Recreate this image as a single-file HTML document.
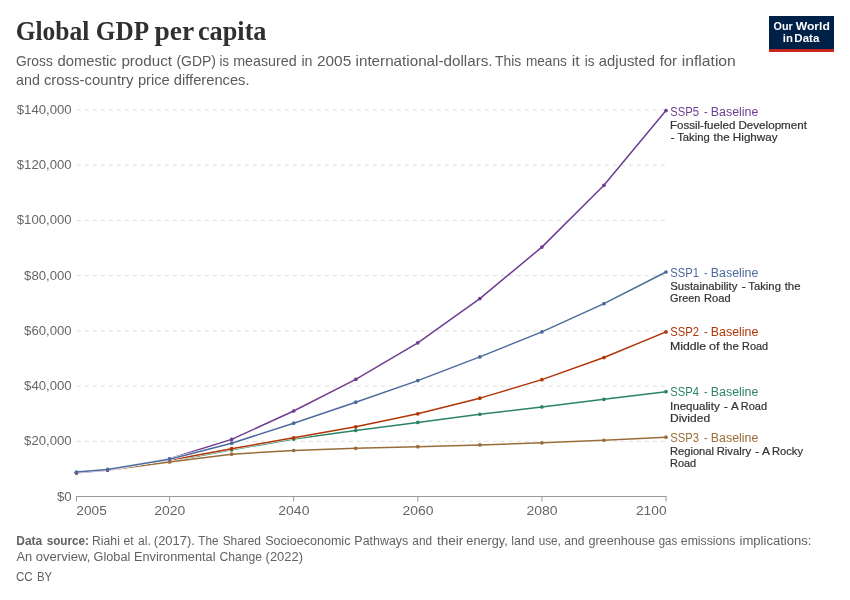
<!DOCTYPE html>
<html lang="en">
<head>
<meta charset="utf-8">
<title>Global GDP per capita</title>
<style>
html,body{margin:0;padding:0;background:#fff;}
body{width:850px;height:600px;overflow:hidden;}
svg{display:block;}
text{font-family:"Liberation Sans", sans-serif;white-space:pre;}
.title{font-family:"Liberation Serif", serif;font-weight:700;fill:#303030;}
.sub{fill:#5b5b5b;}
.tick{fill:#666;}
.foot{fill:#626262;}
.ann{fill:#333;stroke:#333;stroke-width:0.2px;}
</style>
</head>
<body>
<svg width="850" height="600" viewBox="0 0 850 600">
<rect x="0" y="0" width="850" height="600" fill="#ffffff"/>
<rect x="769" y="16" width="65" height="36" fill="#002147"/>
<rect x="769" y="49.1" width="65" height="2.9" fill="#ce261e"/>
<g stroke="#dddddd" stroke-width="1" stroke-dasharray="4,4" fill="none">
<line x1="76.8" y1="441.29" x2="666.0" y2="441.29"/>
<line x1="76.8" y1="386.07" x2="666.0" y2="386.07"/>
<line x1="76.8" y1="330.86" x2="666.0" y2="330.86"/>
<line x1="76.8" y1="275.64" x2="666.0" y2="275.64"/>
<line x1="76.8" y1="220.43" x2="666.0" y2="220.43"/>
<line x1="76.8" y1="165.21" x2="666.0" y2="165.21"/>
<line x1="76.8" y1="110.00" x2="666.0" y2="110.00"/>
</g>
<g stroke="#999999" stroke-width="1" fill="none">
<line x1="76.0" y1="496.5" x2="666.5" y2="496.5"/>
<line x1="76.50" y1="496.5" x2="76.50" y2="501.5"/>
<line x1="169.58" y1="496.5" x2="169.58" y2="501.5"/>
<line x1="293.68" y1="496.5" x2="293.68" y2="501.5"/>
<line x1="417.79" y1="496.5" x2="417.79" y2="501.5"/>
<line x1="541.89" y1="496.5" x2="541.89" y2="501.5"/>
<line x1="666.00" y1="496.5" x2="666.00" y2="501.5"/>
</g>
<g fill="#2C8465" stroke="#2C8465">
<polyline points="76.50,472.80 107.53,470.20 169.58,461.50 231.63,449.80 293.68,439.10 355.74,430.40 417.79,422.40 479.84,414.35 541.89,406.90 603.95,399.35 666.00,391.70" fill="none" stroke="#ffffff" stroke-width="2.5" stroke-linejoin="round" stroke-linecap="butt"/>
<polyline points="76.50,472.80 107.53,470.20 169.58,461.50 231.63,449.80 293.68,439.10 355.74,430.40 417.79,422.40 479.84,414.35 541.89,406.90 603.95,399.35 666.00,391.70" fill="none" stroke-width="1.5" stroke-linejoin="round" stroke-linecap="round"/>
<circle cx="76.50" cy="472.80" r="1.85" stroke="none"/>
<circle cx="107.53" cy="470.20" r="1.85" stroke="none"/>
<circle cx="169.58" cy="461.50" r="1.85" stroke="none"/>
<circle cx="231.63" cy="449.80" r="1.85" stroke="none"/>
<circle cx="293.68" cy="439.10" r="1.85" stroke="none"/>
<circle cx="355.74" cy="430.40" r="1.85" stroke="none"/>
<circle cx="417.79" cy="422.40" r="1.85" stroke="none"/>
<circle cx="479.84" cy="414.35" r="1.85" stroke="none"/>
<circle cx="541.89" cy="406.90" r="1.85" stroke="none"/>
<circle cx="603.95" cy="399.35" r="1.85" stroke="none"/>
<circle cx="666.00" cy="391.70" r="1.85" stroke="none"/>
</g>
<g fill="#B13507" stroke="#B13507">
<polyline points="76.50,472.80 107.53,470.20 169.58,460.20 231.63,448.70 293.68,437.80 355.74,426.80 417.79,413.85 479.84,398.15 541.89,379.65 603.95,357.55 666.00,331.90" fill="none" stroke="#ffffff" stroke-width="2.5" stroke-linejoin="round" stroke-linecap="butt"/>
<polyline points="76.50,472.80 107.53,470.20 169.58,460.20 231.63,448.70 293.68,437.80 355.74,426.80 417.79,413.85 479.84,398.15 541.89,379.65 603.95,357.55 666.00,331.90" fill="none" stroke-width="1.5" stroke-linejoin="round" stroke-linecap="round"/>
<circle cx="76.50" cy="472.80" r="1.85" stroke="none"/>
<circle cx="107.53" cy="470.20" r="1.85" stroke="none"/>
<circle cx="169.58" cy="460.20" r="1.85" stroke="none"/>
<circle cx="231.63" cy="448.70" r="1.85" stroke="none"/>
<circle cx="293.68" cy="437.80" r="1.85" stroke="none"/>
<circle cx="355.74" cy="426.80" r="1.85" stroke="none"/>
<circle cx="417.79" cy="413.85" r="1.85" stroke="none"/>
<circle cx="479.84" cy="398.15" r="1.85" stroke="none"/>
<circle cx="541.89" cy="379.65" r="1.85" stroke="none"/>
<circle cx="603.95" cy="357.55" r="1.85" stroke="none"/>
<circle cx="666.00" cy="331.90" r="1.85" stroke="none"/>
</g>
<g fill="#996D39" stroke="#996D39">
<polyline points="76.50,472.85 107.53,470.25 169.58,462.00 231.63,454.20 293.68,450.50 355.74,448.30 417.79,446.70 479.84,444.90 541.89,442.80 603.95,440.25 666.00,437.20" fill="none" stroke="#ffffff" stroke-width="2.5" stroke-linejoin="round" stroke-linecap="butt"/>
<polyline points="76.50,472.85 107.53,470.25 169.58,462.00 231.63,454.20 293.68,450.50 355.74,448.30 417.79,446.70 479.84,444.90 541.89,442.80 603.95,440.25 666.00,437.20" fill="none" stroke-width="1.5" stroke-linejoin="round" stroke-linecap="round"/>
<circle cx="76.50" cy="472.85" r="1.85" stroke="none"/>
<circle cx="107.53" cy="470.25" r="1.85" stroke="none"/>
<circle cx="169.58" cy="462.00" r="1.85" stroke="none"/>
<circle cx="231.63" cy="454.20" r="1.85" stroke="none"/>
<circle cx="293.68" cy="450.50" r="1.85" stroke="none"/>
<circle cx="355.74" cy="448.30" r="1.85" stroke="none"/>
<circle cx="417.79" cy="446.70" r="1.85" stroke="none"/>
<circle cx="479.84" cy="444.90" r="1.85" stroke="none"/>
<circle cx="541.89" cy="442.80" r="1.85" stroke="none"/>
<circle cx="603.95" cy="440.25" r="1.85" stroke="none"/>
<circle cx="666.00" cy="437.20" r="1.85" stroke="none"/>
</g>
<g fill="#6D3E91" stroke="#6D3E91">
<polyline points="76.50,472.70 107.53,470.10 169.58,458.80 231.63,439.40 293.68,411.00 355.74,379.35 417.79,342.80 479.84,298.60 541.89,247.10 603.95,185.30 666.00,110.60" fill="none" stroke="#ffffff" stroke-width="2.5" stroke-linejoin="round" stroke-linecap="butt"/>
<polyline points="76.50,472.70 107.53,470.10 169.58,458.80 231.63,439.40 293.68,411.00 355.74,379.35 417.79,342.80 479.84,298.60 541.89,247.10 603.95,185.30 666.00,110.60" fill="none" stroke-width="1.5" stroke-linejoin="round" stroke-linecap="round"/>
<circle cx="76.50" cy="472.70" r="1.85" stroke="none"/>
<circle cx="107.53" cy="470.10" r="1.85" stroke="none"/>
<circle cx="169.58" cy="458.80" r="1.85" stroke="none"/>
<circle cx="231.63" cy="439.40" r="1.85" stroke="none"/>
<circle cx="293.68" cy="411.00" r="1.85" stroke="none"/>
<circle cx="355.74" cy="379.35" r="1.85" stroke="none"/>
<circle cx="417.79" cy="342.80" r="1.85" stroke="none"/>
<circle cx="479.84" cy="298.60" r="1.85" stroke="none"/>
<circle cx="541.89" cy="247.10" r="1.85" stroke="none"/>
<circle cx="603.95" cy="185.30" r="1.85" stroke="none"/>
<circle cx="666.00" cy="110.60" r="1.85" stroke="none"/>
</g>
<g fill="#4C6A9C" stroke="#4C6A9C">
<polyline points="76.50,472.05 107.53,469.40 169.58,459.20 231.63,443.20 293.68,423.20 355.74,402.20 417.79,380.60 479.84,356.90 541.89,331.90 603.95,303.65 666.00,272.00" fill="none" stroke="#ffffff" stroke-width="2.5" stroke-linejoin="round" stroke-linecap="butt"/>
<polyline points="76.50,472.05 107.53,469.40 169.58,459.20 231.63,443.20 293.68,423.20 355.74,402.20 417.79,380.60 479.84,356.90 541.89,331.90 603.95,303.65 666.00,272.00" fill="none" stroke-width="1.5" stroke-linejoin="round" stroke-linecap="round"/>
<circle cx="76.50" cy="472.05" r="1.85" stroke="none"/>
<circle cx="107.53" cy="469.40" r="1.85" stroke="none"/>
<circle cx="169.58" cy="459.20" r="1.85" stroke="none"/>
<circle cx="231.63" cy="443.20" r="1.85" stroke="none"/>
<circle cx="293.68" cy="423.20" r="1.85" stroke="none"/>
<circle cx="355.74" cy="402.20" r="1.85" stroke="none"/>
<circle cx="417.79" cy="380.60" r="1.85" stroke="none"/>
<circle cx="479.84" cy="356.90" r="1.85" stroke="none"/>
<circle cx="541.89" cy="331.90" r="1.85" stroke="none"/>
<circle cx="603.95" cy="303.65" r="1.85" stroke="none"/>
<circle cx="666.00" cy="272.00" r="1.85" stroke="none"/>
</g>
<text y="39.90" font-size="27.4" class="title"><tspan x="15.70" textLength="73.71" lengthAdjust="spacingAndGlyphs">Global</tspan> <tspan x="95.85" textLength="51.87" lengthAdjust="spacingAndGlyphs">GDP</tspan> <tspan x="154.50" textLength="39.17" lengthAdjust="spacingAndGlyphs">per</tspan> <tspan x="197.98" textLength="68.52" lengthAdjust="spacingAndGlyphs">capita</tspan></text>
<text y="66.20" font-size="15" class="sub"><tspan x="16.05" textLength="36.73" lengthAdjust="spacingAndGlyphs">Gross</tspan> <tspan x="57.44" textLength="59.29" lengthAdjust="spacingAndGlyphs">domestic</tspan> <tspan x="121.40" textLength="50.55" lengthAdjust="spacingAndGlyphs">product</tspan> <tspan x="176.39" textLength="39.63" lengthAdjust="spacingAndGlyphs">(GDP)</tspan> <tspan x="219.54" textLength="9.37" lengthAdjust="spacingAndGlyphs">is</tspan> <tspan x="233.21" textLength="63.49" lengthAdjust="spacingAndGlyphs">measured</tspan> <tspan x="301.46" textLength="11.09" lengthAdjust="spacingAndGlyphs">in</tspan> <tspan x="316.93" textLength="34.30" lengthAdjust="spacingAndGlyphs">2005</tspan> <tspan x="355.55" textLength="137.03" lengthAdjust="spacingAndGlyphs">international-dollars.</tspan> <tspan x="495.08" textLength="26.20" lengthAdjust="spacingAndGlyphs">This</tspan> <tspan x="525.90" textLength="40.93" lengthAdjust="spacingAndGlyphs">means</tspan> <tspan x="571.65" textLength="7.99" lengthAdjust="spacingAndGlyphs">it</tspan> <tspan x="584.76" textLength="9.71" lengthAdjust="spacingAndGlyphs">is</tspan> <tspan x="598.84" textLength="56.10" lengthAdjust="spacingAndGlyphs">adjusted</tspan> <tspan x="659.65" textLength="17.47" lengthAdjust="spacingAndGlyphs">for</tspan> <tspan x="681.72" textLength="54.11" lengthAdjust="spacingAndGlyphs">inflation</tspan></text>
<text y="84.55" font-size="15" class="sub"><tspan x="16.05" textLength="23.80" lengthAdjust="spacingAndGlyphs">and</tspan> <tspan x="43.88" textLength="89.62" lengthAdjust="spacingAndGlyphs">cross-country</tspan> <tspan x="137.88" textLength="31.92" lengthAdjust="spacingAndGlyphs">price</tspan> <tspan x="173.84" textLength="75.74" lengthAdjust="spacingAndGlyphs">differences.</tspan></text>
<text y="30.30" font-size="11.2" fill="#ffffff" font-weight="700"><tspan x="773.61" textLength="19.14" lengthAdjust="spacingAndGlyphs">Our</tspan> <tspan x="795.70" textLength="34.18" lengthAdjust="spacingAndGlyphs">World</tspan></text>
<text y="42.30" font-size="11.2" fill="#ffffff" font-weight="700"><tspan x="782.74" textLength="10.11" lengthAdjust="spacingAndGlyphs">in</tspan> <tspan x="794.38" textLength="24.95" lengthAdjust="spacingAndGlyphs">Data</tspan></text>
<text y="500.50" font-size="13.2" class="tick"><tspan x="57.00" textLength="14.68" lengthAdjust="spacingAndGlyphs">$0</tspan></text>
<text y="445.29" font-size="13.2" class="tick"><tspan x="24.10" textLength="47.58" lengthAdjust="spacingAndGlyphs">$20,000</tspan></text>
<text y="390.07" font-size="13.2" class="tick"><tspan x="24.10" textLength="47.58" lengthAdjust="spacingAndGlyphs">$40,000</tspan></text>
<text y="334.86" font-size="13.2" class="tick"><tspan x="24.10" textLength="47.58" lengthAdjust="spacingAndGlyphs">$60,000</tspan></text>
<text y="279.64" font-size="13.2" class="tick"><tspan x="24.10" textLength="47.58" lengthAdjust="spacingAndGlyphs">$80,000</tspan></text>
<text y="224.43" font-size="13.2" class="tick"><tspan x="16.80" textLength="54.88" lengthAdjust="spacingAndGlyphs">$100,000</tspan></text>
<text y="169.21" font-size="13.2" class="tick"><tspan x="16.80" textLength="54.88" lengthAdjust="spacingAndGlyphs">$120,000</tspan></text>
<text y="114.00" font-size="13.2" class="tick"><tspan x="16.80" textLength="54.88" lengthAdjust="spacingAndGlyphs">$140,000</tspan></text>
<text y="514.70" font-size="13.2" class="tick"><tspan x="76.36" textLength="30.39" lengthAdjust="spacingAndGlyphs">2005</tspan></text>
<text y="514.70" font-size="13.2" class="tick"><tspan x="154.22" textLength="31.10" lengthAdjust="spacingAndGlyphs">2020</tspan></text>
<text y="514.70" font-size="13.2" class="tick"><tspan x="278.33" textLength="31.10" lengthAdjust="spacingAndGlyphs">2040</tspan></text>
<text y="514.70" font-size="13.2" class="tick"><tspan x="402.43" textLength="31.10" lengthAdjust="spacingAndGlyphs">2060</tspan></text>
<text y="514.70" font-size="13.2" class="tick"><tspan x="526.54" textLength="31.10" lengthAdjust="spacingAndGlyphs">2080</tspan></text>
<text y="514.70" font-size="13.2" class="tick"><tspan x="635.96" textLength="30.59" lengthAdjust="spacingAndGlyphs">2100</tspan></text>
<text y="115.50" font-size="12.5" fill="#6D3E91"><tspan x="670.25" textLength="28.71" lengthAdjust="spacingAndGlyphs">SSP5</tspan> <tspan x="703.96" textLength="3.64" lengthAdjust="spacingAndGlyphs">-</tspan> <tspan x="710.83" textLength="47.57" lengthAdjust="spacingAndGlyphs">Baseline</tspan></text>
<text y="129.10" font-size="10.5" class="ann"><tspan x="670.00" textLength="65.30" lengthAdjust="spacingAndGlyphs">Fossil-fueled</tspan> <tspan x="738.44" textLength="68.52" lengthAdjust="spacingAndGlyphs">Development</tspan></text>
<text y="140.50" font-size="10.5" class="ann"><tspan x="670.51" textLength="4.14" lengthAdjust="spacingAndGlyphs">-</tspan> <tspan x="677.17" textLength="32.56" lengthAdjust="spacingAndGlyphs">Taking</tspan> <tspan x="713.50" textLength="16.07" lengthAdjust="spacingAndGlyphs">the</tspan> <tspan x="732.89" textLength="44.71" lengthAdjust="spacingAndGlyphs">Highway</tspan></text>
<text y="276.80" font-size="12.5" fill="#4C6A9C"><tspan x="670.25" textLength="28.71" lengthAdjust="spacingAndGlyphs">SSP1</tspan> <tspan x="703.96" textLength="3.64" lengthAdjust="spacingAndGlyphs">-</tspan> <tspan x="710.83" textLength="47.57" lengthAdjust="spacingAndGlyphs">Baseline</tspan></text>
<text y="290.35" font-size="10.5" class="ann"><tspan x="670.29" textLength="67.06" lengthAdjust="spacingAndGlyphs">Sustainability</tspan> <tspan x="741.63" textLength="4.45" lengthAdjust="spacingAndGlyphs">-</tspan> <tspan x="748.32" textLength="32.61" lengthAdjust="spacingAndGlyphs">Taking</tspan> <tspan x="784.65" textLength="15.86" lengthAdjust="spacingAndGlyphs">the</tspan></text>
<text y="301.90" font-size="10.5" class="ann"><tspan x="670.14" textLength="30.17" lengthAdjust="spacingAndGlyphs">Green</tspan> <tspan x="704.13" textLength="26.49" lengthAdjust="spacingAndGlyphs">Road</tspan></text>
<text y="336.20" font-size="12.5" fill="#B13507"><tspan x="670.25" textLength="28.71" lengthAdjust="spacingAndGlyphs">SSP2</tspan> <tspan x="703.96" textLength="3.64" lengthAdjust="spacingAndGlyphs">-</tspan> <tspan x="710.83" textLength="47.57" lengthAdjust="spacingAndGlyphs">Baseline</tspan></text>
<text y="349.75" font-size="10.5" class="ann"><tspan x="669.94" textLength="36.16" lengthAdjust="spacingAndGlyphs">Middle</tspan> <tspan x="709.05" textLength="10.60" lengthAdjust="spacingAndGlyphs">of</tspan> <tspan x="722.90" textLength="15.97" lengthAdjust="spacingAndGlyphs">the</tspan> <tspan x="742.05" textLength="25.96" lengthAdjust="spacingAndGlyphs">Road</tspan></text>
<text y="396.40" font-size="12.5" fill="#2C8465"><tspan x="670.25" textLength="28.71" lengthAdjust="spacingAndGlyphs">SSP4</tspan> <tspan x="703.96" textLength="3.64" lengthAdjust="spacingAndGlyphs">-</tspan> <tspan x="710.83" textLength="47.57" lengthAdjust="spacingAndGlyphs">Baseline</tspan></text>
<text y="409.75" font-size="10.5" class="ann"><tspan x="669.99" textLength="49.71" lengthAdjust="spacingAndGlyphs">Inequality</tspan> <tspan x="723.66" textLength="4.14" lengthAdjust="spacingAndGlyphs">-</tspan> <tspan x="731.00" textLength="7.15" lengthAdjust="spacingAndGlyphs">A</tspan> <tspan x="740.84" textLength="26.17" lengthAdjust="spacingAndGlyphs">Road</tspan></text>
<text y="421.50" font-size="10.5" class="ann"><tspan x="669.96" textLength="40.17" lengthAdjust="spacingAndGlyphs">Divided</tspan></text>
<text y="441.80" font-size="12.5" fill="#996D39"><tspan x="670.25" textLength="28.71" lengthAdjust="spacingAndGlyphs">SSP3</tspan> <tspan x="703.96" textLength="3.64" lengthAdjust="spacingAndGlyphs">-</tspan> <tspan x="710.83" textLength="47.57" lengthAdjust="spacingAndGlyphs">Baseline</tspan></text>
<text y="455.35" font-size="10.5" class="ann"><tspan x="670.03" textLength="43.95" lengthAdjust="spacingAndGlyphs">Regional</tspan> <tspan x="716.72" textLength="34.48" lengthAdjust="spacingAndGlyphs">Rivalry</tspan> <tspan x="754.90" textLength="4.26" lengthAdjust="spacingAndGlyphs">-</tspan> <tspan x="761.90" textLength="7.35" lengthAdjust="spacingAndGlyphs">A</tspan> <tspan x="772.03" textLength="30.97" lengthAdjust="spacingAndGlyphs">Rocky</tspan></text>
<text y="467.10" font-size="10.5" class="ann"><tspan x="670.04" textLength="26.17" lengthAdjust="spacingAndGlyphs">Road</tspan></text>
<text y="544.90" font-size="12.5" class="foot"><tspan x="16.30" textLength="25.97" lengthAdjust="spacingAndGlyphs" font-weight="700">Data</tspan> <tspan x="46.68" textLength="42.29" lengthAdjust="spacingAndGlyphs" font-weight="700">source:</tspan> <tspan x="92.04" textLength="27.86" lengthAdjust="spacingAndGlyphs">Riahi</tspan> <tspan x="123.42" textLength="10.14" lengthAdjust="spacingAndGlyphs">et</tspan> <tspan x="137.92" textLength="12.88" lengthAdjust="spacingAndGlyphs">al.</tspan> <tspan x="153.84" textLength="41.08" lengthAdjust="spacingAndGlyphs">(2017).</tspan> <tspan x="198.27" textLength="20.21" lengthAdjust="spacingAndGlyphs">The</tspan> <tspan x="222.63" textLength="38.34" lengthAdjust="spacingAndGlyphs">Shared</tspan> <tspan x="265.21" textLength="85.24" lengthAdjust="spacingAndGlyphs">Socioeconomic</tspan> <tspan x="354.33" textLength="53.96" lengthAdjust="spacingAndGlyphs">Pathways</tspan> <tspan x="412.33" textLength="19.73" lengthAdjust="spacingAndGlyphs">and</tspan> <tspan x="436.90" textLength="26.42" lengthAdjust="spacingAndGlyphs">their</tspan> <tspan x="466.35" textLength="41.39" lengthAdjust="spacingAndGlyphs">energy,</tspan> <tspan x="511.32" textLength="23.47" lengthAdjust="spacingAndGlyphs">land</tspan> <tspan x="538.67" textLength="22.21" lengthAdjust="spacingAndGlyphs">use,</tspan> <tspan x="564.32" textLength="20.21" lengthAdjust="spacingAndGlyphs">and</tspan> <tspan x="588.41" textLength="66.61" lengthAdjust="spacingAndGlyphs">greenhouse</tspan> <tspan x="658.69" textLength="18.47" lengthAdjust="spacingAndGlyphs">gas</tspan> <tspan x="680.82" textLength="54.52" lengthAdjust="spacingAndGlyphs">emissions</tspan> <tspan x="739.53" textLength="72.00" lengthAdjust="spacingAndGlyphs">implications:</tspan></text>
<text y="560.90" font-size="12.5" class="foot"><tspan x="16.50" textLength="15.72" lengthAdjust="spacingAndGlyphs">An</tspan> <tspan x="35.69" textLength="54.69" lengthAdjust="spacingAndGlyphs">overview,</tspan> <tspan x="93.60" textLength="36.73" lengthAdjust="spacingAndGlyphs">Global</tspan> <tspan x="134.00" textLength="81.54" lengthAdjust="spacingAndGlyphs">Environmental</tspan> <tspan x="219.38" textLength="42.56" lengthAdjust="spacingAndGlyphs">Change</tspan> <tspan x="265.59" textLength="37.38" lengthAdjust="spacingAndGlyphs">(2022)</tspan></text>
<text y="580.80" font-size="12.5" class="foot"><tspan x="15.95" textLength="16.80" lengthAdjust="spacingAndGlyphs">CC</tspan> <tspan x="37.01" textLength="15.21" lengthAdjust="spacingAndGlyphs">BY</tspan></text>
</svg>
</body>
</html>
